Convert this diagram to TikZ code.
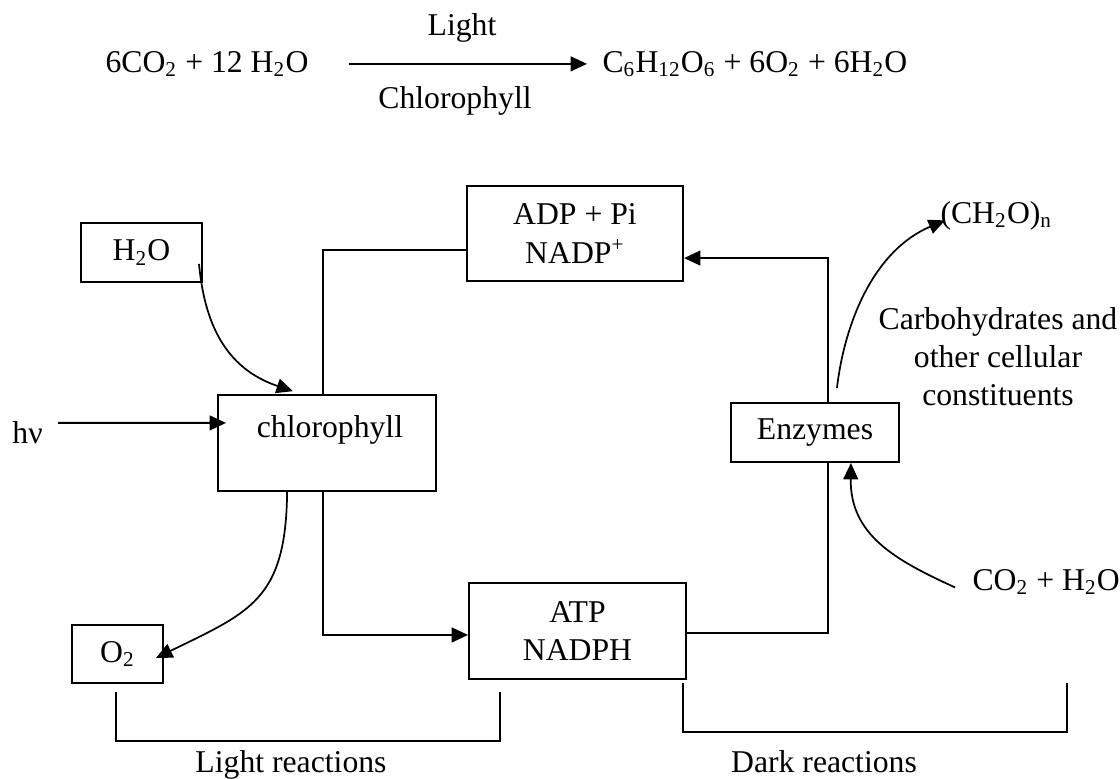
\documentclass[tikz,border=0pt]{standalone}
\usepackage{fontspec}
\setmainfont{Liberation Serif}
\usetikzlibrary{arrows.meta}

\begin{document}
\begin{tikzpicture}[x=0.3785pt, y=-0.3785pt,
    >={Triangle[length=6.2pt, width=5.6pt]},
    every node/.style={font=\fontsize{12}{14.5}\selectfont, inner sep=0pt},
    box/.style={draw, line width=0.75pt, align=center},
    link/.style={line width=0.75pt},
    curveline/.style={line width=0.65pt}]
    \useasboundingbox (0,0) rectangle (1120,778);

    % 1. Overall equation
    \node[anchor=base] (reac) at (207,72) {6CO\textsubscript{2} + 12 H\textsubscript{2}O};
    \node[anchor=base west] (prod) at (602,72) {C\textsubscript{6}H\textsubscript{12}O\textsubscript{6} + 6O\textsubscript{2} + 6H\textsubscript{2}O};
    \node[anchor=base] (light) at (462,35) {Light};
    \node[anchor=base] (chlname) at (455,108) {Chlorophyll};
    \draw[link,->] ([xshift=15.1pt]reac.east) -- ([xshift=-5.7pt]prod.west |- reac.east);

    % 2. Boxes
    \node[box, minimum width=45.8pt, minimum height=22.3pt] (h2o) at (141.5,252.5) {H\textsubscript{2}O};
    \node[box, minimum width=82.5pt, minimum height=36.3pt] (chl) at (327,443) {};
    \node[anchor=base] (chltext) at (330,437) {chlorophyll};
    \node[box, minimum width=81.8pt, minimum height=36pt] (adp) at (575,233.5) {ADP + Pi\\NADP\textsuperscript{+}};
    \node[box, minimum width=63.6pt, minimum height=22.3pt] (enz) at (815,432.5) {Enzymes};
    \node[box, minimum width=34.4pt, minimum height=22pt] (o2) at (117.5,654) {O\textsubscript{2}};
    \node[box, minimum width=82.1pt, minimum height=36.3pt] (atp) at (577.5,631) {ATP\\NADPH};

    % 3. Free labels
    \node[anchor=base] (hnu) at (27.5,443) {hν};
    \node[anchor=base west] (ch2o) at (940,223) {(CH\textsubscript{2}O)\textsubscript{n}};
    \node[align=center] (carbo) at (998,356.5) {Carbohydrates and\\other cellular\\constituents};
    \node[anchor=base west] (co2) at (972,590) {CO\textsubscript{2} + H\textsubscript{2}O};
    \node[anchor=base] (lightr) at (291,772) {Light reactions};
    \node[anchor=base] (darkr) at (824,772) {Dark reactions};

    % 4. Straight connectors
    \draw[link] ([xshift=-1.5pt]chl.north) |- ([yshift=-6.2pt]adp.west);
    \draw[link,->] ([xshift=4.9pt]enz.north) |- ([yshift=-9.3pt]adp.east);
    \draw[link,->] ([xshift=-1.5pt]chl.south) |- ([yshift=-1.5pt]atp.west);
    \draw[link] ([yshift=-0.8pt]atp.east) -| ([xshift=4.9pt]enz.south);
    \draw[link,->] ([shift={(5.7pt,3.5pt)}]hnu.east) -- ([shift={(3.4pt,7.6pt)}]chl.west);

    % 5. Curved connectors
    \draw[curveline,->] ([shift={(-1.5pt,7.2pt)}]h2o.south east)
        .. controls (205,330) and (230,370) .. ([shift={(-12.9pt,1.1pt)}]chl.north);
    \draw[curveline,->] ([xshift=-15.1pt]chl.south)
        .. controls (286,600) and (250,612) .. ([shift={(-3pt,-1.5pt)}]o2.east);
    \draw[curveline,->] ([shift={(8.3pt,5.3pt)}]enz.north)
        .. controls (845,320) and (875,250) .. ([shift={(1.9pt,-1.9pt)}]ch2o.west);
    \draw[curveline,->] ([shift={(-6.4pt,-2.1pt)}]co2.west)
        .. controls (895,560) and (850,535) .. ([xshift=13.6pt]enz.south);

    % 6. Brackets
    \draw[link] (116,692) |- (500,741) -- (500,692);
    \draw[link] (683,683) |- (1067,732) -- (1067,683);
\end{tikzpicture}
\end{document}
